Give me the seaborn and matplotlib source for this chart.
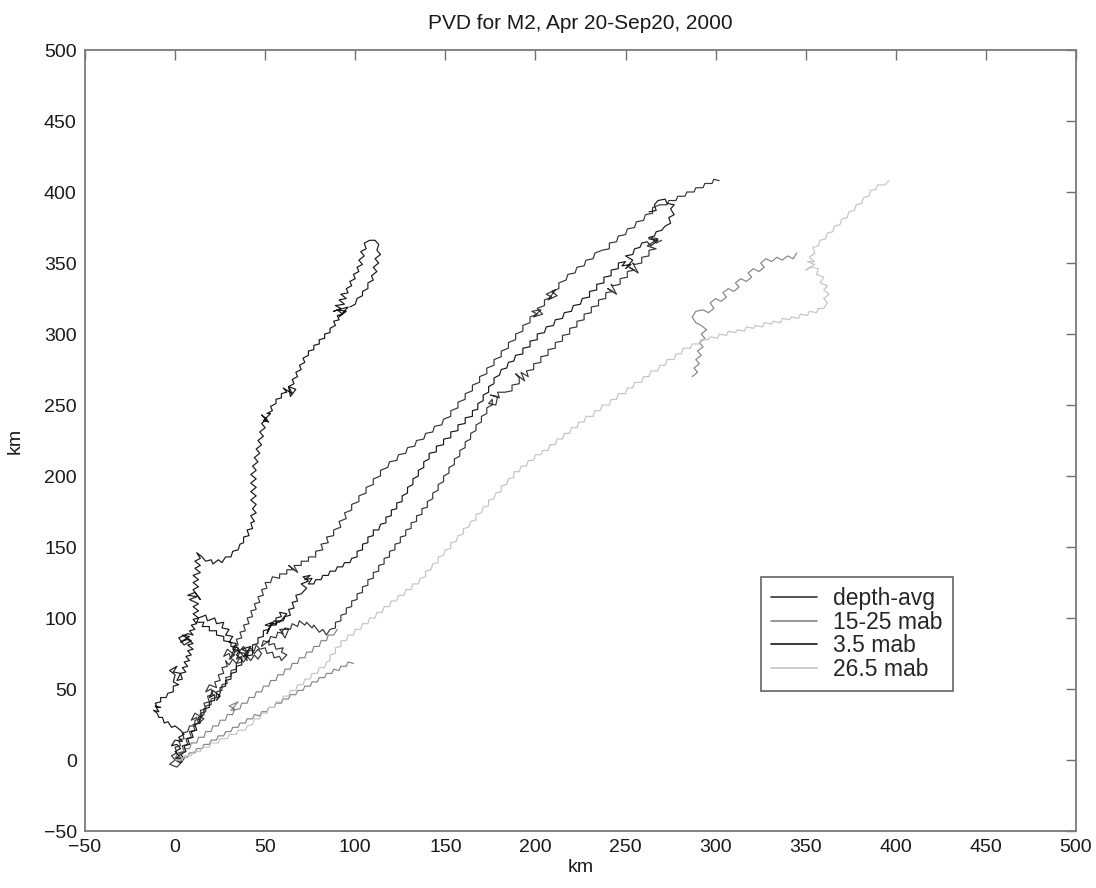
import matplotlib
matplotlib.use("Agg")
import matplotlib.pyplot as plt
from matplotlib.lines import Line2D
import pandas as pd
import seaborn as sns

# ---------------- data (km east, km north) ----------------
title = "PVD for M2, Apr 20-Sep20, 2000"
labels = ["depth-avg", "15-25 mab", "3.5 mab", "26.5 mab"]
x_ticks = [-50, 0, 50, 100, 150, 200, 250, 300, 350, 400, 450, 500]
y_ticks = [-50, 0, 50, 100, 150, 200, 250, 300, 350, 400, 450, 500]

# depth-avg: main track to the NE corner, and the blotchy band track
depth_avg_a = [(0,0),(-3,-3),(1,-5),(4,-1),(0,2),(3,1),(2,5),(5,6),(4,10),(7,11),(6,15),(9,16),(8,20),
    (11,21),(10,25),(13,26),(12,30),(9,28),(11,33),(16,29),(13,26),(15,31),(14,35),(17,36),(16,40),
    (19,41),(18,45),(21,46),(20,50),(17,48),(19,53),(23,51),(22,55),(25,56),(24,60),(27,61),(26,65),
    (29,66),(28,70),(30,67),(32,71),(34,68),(36,72),(38,69),(40,73),(42,70),(44,74),(46,71),(48,75),
    (46,78),(44,75),(42,79),(40,76),(38,80),(36,77),(34,80),(32,76),(31,71),(30,75),(27,73),(29,78),
    (33,74),(30,71),(34,77),(33,76),(32,80),(35,81),(34,85),(37,86),(36,90),(39,91),(38,95),(41,96),
    (40,100),(43,101),(42,105),(45,106),(44,110),(47,111),(46,115),(49,116),(48,120),(51,121),
    (50,125),(53,125),(54,129),(58,128),(58,131),(62,131),(62,134),(66,134),(63,137),(68,132),
    (66,137),(70,137),(70,140),(74,140),(74,143),(78,143),(78,147),(82,148),(81,152),(85,153),
    (84,157),(88,158),(88,162),(92,164),(91,168),(95,170),(94,174),(98,176),(98,180),(102,182),
    (102,186),(106,188),(106,192),(110,194),(110,198),(114,200),(114,204),(118,206),(119,210),
    (123,211),(124,215),(128,216),(129,220),(133,221),(134,225),(138,226),(139,230),(143,231),
    (144,235),(148,236),(149,240),(153,242),(153,246),(157,248),(157,252),(161,254),(161,258),
    (165,260),(165,264),(169,266),(169,270),(173,272),(173,276),(177,278),(177,282),(181,284),
    (181,288),(185,290),(185,294),(189,296),(189,300),(193,302),(193,306),(197,308),(197,312),
    (201,314),(198,316),(203,317),(199,312),(204,314),(201,318),(205,320),(205,324),(209,326),
    (206,328),(211,331),(207,324),(212,327),(209,330),(213,332),(213,336),(217,338),(218,342),
    (222,343),(223,347),(227,348),(228,352),(232,353),(233,357),(237,359),(241,360),(241,364),
    (245,365),(246,369),(250,370),(251,374),(255,375),(256,379),(260,380),(261,384),(265,385),
    (265,389),(269,391),(273,391),(274,394),(278,394),(279,397),(283,397),(284,400),(288,400),
    (289,403),(293,403),(294,406),(298,406),(299,409),(302,408)]
depth_avg_b = [(0,0),(-2,3),(1,5),(0,9),(3,10),(2,14),(5,15),(4,19),(7,20),(8,24),(11,24),(11,28),
    (14,29),(14,33),(17,34),(17,38),(20,39),(20,43),(23,44),(23,48),(26,49),(26,53),(29,54),(28,58),
    (31,59),(31,63),(34,64),(34,68),(37,69),(37,73),(34,71),(36,76),(40,70),(39,75),(40,73),(41,77),
    (44,77),(45,81),(47,78),(50,79),(51,75),(54,76),(55,72),(58,73),(59,70),(62,74),(59,76),(60,79),
    (56,78),(55,82),(52,81),(52,84),(48,80),(49,84),(52,83),(53,87),(56,86),(57,90),(60,89),(58,92),
    (63,92),(61,86),(59,90),(61,93),(64,92),(65,96),(68,94),(69,98),(72,95),(73,97),(76,93),(77,95),
    (80,90),(82,92),(84,88),(86,92),(89,93),(89,97),(92,98),(92,102),(95,103),(95,107),(98,108),
    (98,112),(101,113),(101,117),(104,118),(104,122),(107,123),(107,127),(110,128),(110,132),
    (113,133),(113,137),(116,138),(116,142),(119,143),(119,147),(122,148),(122,152),(125,153),
    (125,157),(128,158),(128,162),(131,163),(131,167),(134,168),(134,172),(137,173),(137,177),
    (140,178),(140,182),(143,184),(143,188),(146,190),(146,194),(149,196),(149,200),(152,202),
    (152,206),(155,208),(155,212),(158,214),(158,218),(161,220),(161,224),(164,226),(164,230),
    (167,232),(167,236),(170,238),(170,242),(173,244),(173,248),(176,250),(176,254),(174,251),
    (178,250),(179,256),(175,257),(180,255),(179,259),(183,259),(187,260),(187,264),(191,265),
    (191,269),(189,272),(194,267),(192,273),(196,270),(195,274),(199,275),(199,279),(203,280),
    (203,284),(207,285),(207,289),(211,290),(211,294),(215,295),(215,299),(219,300),(219,304),
    (223,305),(223,309),(227,310),(227,314),(231,315),(231,319),(235,320),(235,324),(239,325),
    (239,329),(243,330),(240,332),(245,328),(242,335),(243,334),(247,335),(247,339),(251,340),
    (251,344),(255,345),(252,347),(257,343),(254,350),(255,349),(259,350),(259,354),(263,355),
    (263,359),(267,360),(262,362),(268,367),(264,368),(267,364),(270,366)]

# 15-25 mab: two short tracks in the lower band and a cluster on the right
mab15_25_a = [(0,0),(3,-1),(4,2),(7,2),(8,5),(11,5),(12,8),(15,8),(16,11),(19,11),(20,14),(23,14),
    (24,17),(27,17),(28,20),(31,20),(32,23),(35,23),(36,26),(39,26),(40,29),(43,29),(44,32),(47,31),
    (48,34),(51,34),(52,37),(55,37),(56,40),(59,40),(60,43),(63,43),(64,46),(67,46),(68,49),(71,49),
    (72,52),(75,52),(76,55),(79,55),(80,58),(83,58),(84,61),(87,61),(88,64),(91,63),(92,66),(95,66),
    (96,69),(99,68)]
mab15_25_b = [(0,0),(1,4),(4,4),(5,8),(8,8),(9,12),(12,12),(13,16),(16,16),(17,20),(20,20),(21,24),
    (24,24),(25,28),(28,28),(29,32),(32,32),(33,36),(30,38),(35,41),(31,35),(36,36),(37,40),(40,40),
    (41,44),(44,44),(45,48),(48,48),(49,52),(52,52),(53,56),(56,56),(57,60),(60,60),(61,64),(64,64),
    (65,68),(68,68),(69,72),(72,72),(73,76),(76,76),(77,80),(80,80),(81,84),(84,84),(85,88),(88,88),
    (90,92)]
mab15_25_c = [(287,270),(290,273),(288,276),(291,279),(289,282),(292,285),(290,288),(293,291),
    (291,294),(294,297),(292,300),(295,303),(292,306),(289,308),(287,312),(289,316),(293,317),
    (296,315),(299,318),(297,322),(300,325),(303,323),(306,326),(304,329),(307,332),(310,330),
    (313,333),(311,336),(314,339),(317,337),(320,340),(318,343),(321,346),(324,344),(327,347),
    (325,350),(328,353),(331,351),(334,354),(337,352),(340,355),(343,353),(345,357)]

# 3.5 mab: the northward track and a second NE track
mab3_5_a = [(0,0),(2,3),(0,6),(3,8),(1,11),(-2,10),(0,14),(4,13),(2,16),(5,18),(3,21),(0,24),(-2,23),
    (-4,27),(-6,26),(-7,30),(-9,30),(-10,33),(-12,35),(-9,34),(-11,38),(-8,37),(-10,37),(-11,40),
    (-8,41),(-8,44),(-5,44),(-4,47),(-1,48),(-1,52),(2,53),(-1,55),(0,60),(-3,63),(1,66),(-1,62),
    (3,61),(1,56),(4,57),(3,61),(6,62),(4,65),(7,66),(5,69),(8,70),(6,73),(9,74),(7,77),(10,78),
    (7,81),(10,82),(7,85),(3,83),(8,87),(4,88),(9,84),(5,81),(2,86),(7,89),(10,88),(8,91),(11,92),
    (9,95),(12,96),(10,99),(13,100),(10,103),(13,105),(10,108),(13,110),(8,113),(12,115),(7,116),
    (11,118),(14,113),(10,120),(13,122),(10,125),(13,127),(10,130),(14,132),(11,135),(14,137),
    (11,140),(14,142),(12,146),(15,143),(17,140),(20,141),(21,138),(24,141),(26,139),(28,143),
    (31,143),(32,147),(35,148),(36,152),(38,153),(38,157),(41,158),(40,162),(43,163),(42,167),
    (44,168),(42,172),(45,174),(43,177),(45,180),(42,183),(45,186),(42,189),(45,192),(42,195),
    (45,198),(42,201),(45,204),(43,207),(46,210),(44,213),(47,216),(45,219),(48,222),(46,225),
    (49,228),(47,231),(50,234),(48,237),(51,240),(48,243),(52,238),(49,239),(53,244),(51,244),
    (54,246),(53,249),(56,251),(56,254),(59,255),(59,258),(62,259),(60,262),(65,258),(63,263),
    (67,261),(64,256),(63,263),(66,265),(65,268),(68,270),(67,273),(70,275),(69,278),(72,280),
    (71,283),(74,285),(74,288),(77,289),(77,292),(80,293),(80,296),(83,297),(83,300),(86,301),
    (86,304),(89,306),(88,309),(91,310),(90,313),(93,314),(90,317),(95,316),(91,312),(96,319),
    (88,316),(92,318),(89,320),(94,321),(91,324),(95,325),(92,328),(96,329),(95,332),(98,334),
    (97,337),(100,339),(99,342),(102,344),(101,347),(104,349),(102,352),(105,355),(103,358),
    (106,360),(105,364),(108,366),(111,366),(113,363),(112,359),(114,356),(111,353),(113,350),
    (110,347),(112,344),(109,341),(110,338),(107,336),(107,332),(104,330),(104,327),(101,325),
    (100,321),(97,319)]
mab3_5_b = [(0,0),(3,-2),(5,1),(3,4),(6,6),(5,10),(8,11),(7,15),(10,16),(9,20),(12,21),(11,25),
    (14,26),(13,30),(16,32),(16,36),(19,37),(19,41),(22,42),(22,46),(19,44),(21,49),(25,45),(23,42),
    (25,47),(25,51),(28,52),(28,56),(31,57),(31,61),(34,62),(34,66),(37,67),(37,71),(34,74),(36,77),
    (32,78),(34,82),(30,83),(32,87),(28,88),(30,92),(26,93),(27,97),(23,96),(22,100),(18,98),
    (17,102),(13,100),(12,97),(16,97),(15,94),(19,94),(19,91),(23,91),(23,88),(27,87),(27,84),
    (31,83),(31,80),(35,79),(35,76),(39,75),(40,72),(40,76),(37,78),(42,80),(38,73),(43,74),(43,77),
    (43,81),(46,82),(46,86),(49,87),(49,91),(52,92),(53,96),(56,96),(56,100),(59,101),(58,104),
    (62,103),(60,100),(58,97),(55,98),(53,94),(50,95),(54,97),(51,89),(53,95),(56,95),(57,98),
    (60,98),(61,101),(64,102),(63,106),(66,107),(65,111),(68,112),(67,116),(70,117),(73,121),
    (70,124),(74,126),(71,129),(75,130),(72,127),(76,128),(74,124),(77,124),(78,127),(81,127),
    (82,130),(85,130),(86,133),(89,133),(90,136),(93,136),(94,139),(97,139),(98,142),(101,143),
    (101,147),(104,148),(104,152),(107,153),(107,157),(110,158),(110,162),(113,162),(114,166),
    (117,167),(117,171),(120,172),(120,176),(123,177),(123,181),(126,182),(126,186),(129,188),
    (129,192),(132,194),(132,198),(135,200),(135,204),(138,206),(138,210),(141,212),(141,216),
    (145,217),(145,221),(149,222),(149,226),(153,227),(153,231),(157,232),(157,236),(161,237),
    (161,241),(165,242),(165,246),(168,247),(168,251),(171,253),(171,257),(174,259),(174,263),
    (177,265),(177,269),(180,271),(181,275),(184,276),(185,280),(188,281),(189,285),(193,286),
    (193,290),(197,291),(197,295),(201,296),(201,300),(205,301),(206,305),(210,306),(211,310),
    (215,311),(216,315),(220,316),(221,320),(225,321),(226,325),(230,326),(230,330),(234,331),
    (234,335),(238,336),(238,340),(242,341),(242,345),(246,346),(246,350),(250,351),(248,348),
    (253,349),(250,346),(254,352),(250,355),(254,356),(255,360),(258,361),(259,364),(262,365),
    (264,362),(268,366),(263,367),(263,368),(266,369),(267,372),(270,373),(272,376),(275,378),
    (274,382),(277,384),(275,388),(277,391),(273,392),(272,395),(268,394),(266,391),(267,387),
    (263,386)]

# 26.5 mab: the long light track to the far NE
mab26_5 = [(0,0),(4,0),(5,3),(9,3),(10,6),(14,6),(15,9),(19,9),(20,12),(24,12),(25,15),(29,15),
    (30,18),(34,18),(35,21),(39,21),(40,24),(43,25),(44,29),(47,29),(48,33),(51,33),(52,37),(55,37),
    (56,41),(59,41),(60,45),(63,45),(64,49),(67,49),(68,53),(71,53),(72,57),(75,57),(76,61),(79,61),
    (80,65),(83,65),(84,69),(86,70),(86,74),(89,75),(89,79),(92,80),(92,84),(95,84),(96,88),(99,88),
    (100,92),(103,92),(104,96),(107,96),(108,100),(111,100),(112,104),(115,104),(116,108),(119,108),
    (120,112),(123,112),(124,116),(127,116),(128,120),(131,120),(132,124),(135,124),(136,128),
    (139,129),(139,133),(142,134),(143,138),(146,139),(146,143),(149,144),(150,148),(153,149),
    (153,153),(156,154),(157,158),(160,159),(160,163),(163,164),(164,168),(167,169),(167,173),
    (170,174),(171,178),(174,179),(174,183),(177,184),(178,188),(181,189),(181,193),(184,194),
    (185,198),(188,199),(188,203),(191,203),(192,207),(195,207),(196,211),(199,211),(200,215),
    (203,215),(204,218),(207,218),(208,222),(211,222),(212,226),(215,226),(216,230),(219,230),
    (220,234),(223,234),(224,238),(227,238),(228,242),(232,242),(233,246),(236,246),(237,250),
    (241,250),(242,254),(245,254),(246,258),(250,258),(251,262),(254,262),(255,266),(259,266),
    (260,270),(263,270),(264,274),(268,274),(269,278),(272,278),(273,282),(277,282),(278,286),
    (281,286),(282,290),(286,290),(287,293),(291,293),(292,296),(296,296),(297,298),(301,297),
    (302,300),(306,299),(307,302),(311,301),(312,303),(316,302),(317,305),(321,304),(322,306),
    (326,305),(327,308),(331,307),(332,309),(336,308),(337,311),(341,310),(342,312),(346,311),
    (347,314),(351,313),(352,316),(356,315),(357,318),(360,318),(362,322),(360,325),(363,328),
    (360,331),(362,334),(358,336),(360,340),(356,342),(357,346),(353,347),(350,345),(355,349),
    (351,351),(355,351),(352,354),(355,357),(354,361),(357,362),(358,366),(361,367),(362,371),
    (365,372),(366,376),(369,377),(370,381),(373,382),(374,386),(377,387),(378,391),(381,392),
    (382,396),(385,397),(386,401),(389,402),(390,405),(394,405),(396,408)]

# ---------------- styles ----------------
series = [
    (labels[0], "#363636", [depth_avg_a, depth_avg_b]),
    (labels[1], "#858585", [mab15_25_a, mab15_25_b, mab15_25_c]),
    (labels[2], "#181818", [mab3_5_a, mab3_5_b]),
    (labels[3], "#c4c4c4", [mab26_5]),
]

sns.set_theme(style="white")
plt.rcParams["font.family"] = ["Liberation Sans", "DejaVu Sans"]

fig = plt.figure(figsize=(10.96, 8.88), dpi=100)
ax = fig.add_axes([85 / 1096, 1 - 831 / 888, 991 / 1096, 781 / 888])

for label, color, paths in series:
    for path in paths:
        df = pd.DataFrame(path, columns=["x", "y"])
        sns.lineplot(data=df, x="x", y="y", sort=False, estimator=None,
                     color=color, lw=0.85, ax=ax, legend=False)

ax.set_xlim(-50, 500)
ax.set_ylim(-50, 500)
ax.set_xticks(x_ticks)
ax.set_yticks(y_ticks)
ax.tick_params(direction="in", length=7, width=1, color="#707070",
               top=True, right=True, labelsize=14, pad=6, labelcolor="#1a1a1a")
for s in ax.spines.values():
    s.set_color("#7a7a7a")
    s.set_linewidth(1.3)
ax.set_xlabel("km", fontsize=14, labelpad=2, color="#1a1a1a")
ax.set_ylabel("km", fontsize=14, labelpad=14, color="#1a1a1a")
ax.set_title(title, fontsize=15, pad=15, color="#1a1a1a")

handles = [Line2D([0], [0], color=c, lw=1.2) for _, c, _ in series]
leg = ax.legend(handles, [l for l, _, _ in series], loc="upper left",
                bbox_to_anchor=(0.682, 0.325), fontsize=16.5, frameon=True,
                fancybox=False, framealpha=1, edgecolor="#707070",
                handlelength=2.0, handletextpad=0.7, labelspacing=0.02,
                borderpad=0.45, borderaxespad=0)
leg.get_frame().set_linewidth(1.3)

fig.savefig("out.png", dpi=100)
